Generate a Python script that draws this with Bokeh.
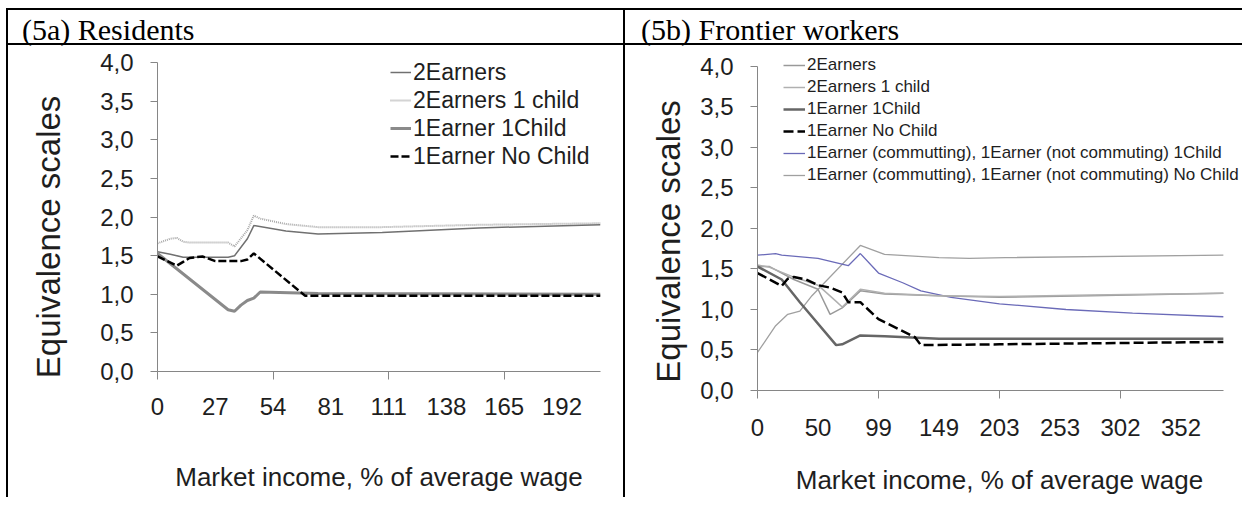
from bokeh.plotting import figure
from bokeh.models import (Range1d, FixedTicker, CustomJSTickFormatter, Legend,
                          LegendItem, Div)
from bokeh.layouts import row, column
from bokeh.embed import file_html
from bokeh.resources import INLINE

# ---------------- data: panel (5a) Residents ----------------
# x = category position on the (categorical) income axis, labels every 9 categories
a_tick_idx = [0, 9, 18, 27, 36, 45, 54, 63]
a_tick_labels = ["0", "27", "54", "81", "111", "138", "165", "192"]
a_x_max = 69

a_2e_x = [0, 2, 4, 11, 12, 14, 15, 20, 25, 35, 50, 69]
a_2e_y = [1.55, 1.52, 1.48, 1.48, 1.50, 1.72, 1.89, 1.82, 1.78, 1.80, 1.86, 1.90]
a_2e1c_x = [0, 2, 3, 4, 5, 11, 12, 14, 15, 16, 20, 25, 35, 50, 69]
a_2e1c_y = [1.66, 1.72, 1.73, 1.68, 1.67, 1.67, 1.62, 1.83, 2.02, 1.98, 1.91, 1.87, 1.87, 1.90, 1.92]
a_1e1c_x = [0, 11, 12, 13, 14, 15, 16, 25, 69]
a_1e1c_y = [1.53, 0.80, 0.78, 0.86, 0.92, 0.95, 1.03, 1.01, 1.00]
a_1e0c_x = [0, 3, 4, 5, 7, 9, 13, 14, 15, 23, 69]
a_1e0c_y = [1.49, 1.37, 1.42, 1.47, 1.49, 1.43, 1.43, 1.45, 1.53, 0.98, 0.98]

# ---------------- data: panel (5b) Frontier workers ----------------
b_tick_idx = [0, 10, 20, 30, 40, 50, 60, 70]
b_tick_labels = ["0", "50", "99", "149", "203", "253", "302", "352"]
b_x_max = 77

b_2e_x = [0, 2, 6, 10, 12, 14, 17, 21, 30, 40, 55, 77]
b_2e_y = [1.53, 1.53, 1.37, 1.25, 0.94, 1.02, 1.23, 1.19, 1.17, 1.15, 1.17, 1.20]
b_2e1c_x = [0, 2, 6, 10, 13, 14, 17, 21, 30, 40, 55, 77]
b_2e1c_y = [1.55, 1.52, 1.40, 1.30, 1.10, 1.03, 1.25, 1.20, 1.17, 1.16, 1.18, 1.20]
b_1e1c_x = [0, 4, 7, 13, 14, 17, 21, 30, 77]
b_1e1c_y = [1.53, 1.37, 1.09, 0.56, 0.57, 0.68, 0.67, 0.64, 0.64]
b_1e0c_x = [0, 4, 5, 6, 8, 10, 12, 14, 15, 17, 20, 26, 27, 40, 77]
b_1e0c_y = [1.45, 1.29, 1.38, 1.40, 1.37, 1.30, 1.27, 1.21, 1.09, 1.09, 0.88, 0.66, 0.56, 0.57, 0.60]
b_c1c_x = [0, 3, 4, 10, 15, 17, 20, 24, 27, 32, 40, 51, 62, 77]
b_c1c_y = [1.67, 1.69, 1.67, 1.63, 1.54, 1.69, 1.45, 1.33, 1.23, 1.15, 1.07, 1.00, 0.955, 0.91]
b_c0c_x = [0, 3, 5, 7, 9, 17, 21, 30, 35, 41, 77]
b_c0c_y = [0.47, 0.80, 0.94, 0.98, 1.17, 1.79, 1.68, 1.64, 1.63, 1.64, 1.67]

y_ticks = [0, 0.5, 1.0, 1.5, 2.0, 2.5, 3.0, 3.5, 4.0]
y_axis_max = 4.0

AXIS_GRAY = "#868686"
TEXT = "#1e1e1e"
SANS = "Liberation Sans"
NBSP = "\u00a0"


def make_panel(width, height, x_max, x_view_end, y_view_end, tick_idx, tick_labels, minor_idx,
               mb_left, mb_right, mb_top, mb_bottom, x_lab_standoff, x_title_standoff,
               ytitle_pad, ytitle_standoff):
    # the visible frame is a little larger than the axes (room for the legend text),
    # the axis lines themselves are bounded to the data extent
    p = figure(width=width, height=height, x_range=Range1d(0, x_view_end),
               y_range=Range1d(0, y_view_end),
               output_backend="svg", toolbar_location=None,
               min_border_left=mb_left, min_border_right=mb_right,
               min_border_top=mb_top, min_border_bottom=mb_bottom)
    p.grid.visible = False
    p.outline_line_color = None
    p.background_fill_color = "white"
    p.border_fill_color = "white"

    xa = p.xaxis[0]
    xa.bounds = (0, x_max)
    xa.ticker = FixedTicker(ticks=tick_idx, minor_ticks=minor_idx)
    xa.major_label_overrides = {i: s for i, s in zip(tick_idx, tick_labels)}
    xa.major_tick_out = 0
    xa.major_tick_in = 0
    xa.minor_tick_out = 8
    xa.minor_tick_in = 0
    xa.minor_tick_line_color = AXIS_GRAY
    xa.axis_line_color = AXIS_GRAY
    xa.major_label_text_font = SANS
    xa.major_label_text_font_size = "24px"
    xa.major_label_text_color = TEXT
    xa.major_label_standoff = x_lab_standoff
    xa.axis_label = "Market income, % of average wage"
    xa.axis_label_text_font = SANS
    xa.axis_label_text_font_size = "26px"
    xa.axis_label_text_font_style = "normal"
    xa.axis_label_text_color = TEXT
    xa.axis_label_standoff = x_title_standoff

    ya = p.yaxis[0]
    ya.bounds = (0, y_axis_max)
    ya.ticker = FixedTicker(ticks=y_ticks)
    ya.formatter = CustomJSTickFormatter(code="return tick.toFixed(1).replace('.', ',');")
    ya.major_tick_out = 7
    ya.major_tick_in = 0
    ya.minor_tick_out = 0
    ya.major_tick_line_color = AXIS_GRAY
    ya.axis_line_color = AXIS_GRAY
    ya.major_label_text_font = SANS
    ya.major_label_text_font_size = "24px"
    ya.major_label_text_color = TEXT
    ya.major_label_standoff = 17
    # trailing no-break spaces move the centred rotated title down, as in the original
    ya.axis_label = "Equivalence scales" + NBSP * ytitle_pad
    ya.axis_label_text_font = SANS
    ya.axis_label_text_font_size = "33px"
    ya.axis_label_text_font_style = "normal"
    ya.axis_label_text_color = TEXT
    ya.axis_label_standoff = ytitle_standoff
    return p


# ---------------- panel a ----------------
pa = make_panel(615, 452, a_x_max, a_x_max, 4.08, a_tick_idx, a_tick_labels, a_tick_idx[::2],
                149, 23, 11, 126, 18, 44, 5, 30)
ra2 = pa.line(a_2e1c_x, a_2e1c_y, line_color="#a8a8a8", line_width=2, line_dash="1 1")
ra1 = pa.line(a_2e_x, a_2e_y, line_color="#707070", line_width=1.5)
ra3 = pa.line(a_1e1c_x, a_1e1c_y, line_color="#8a8a8a", line_width=3)
ra4 = pa.line(a_1e0c_x, a_1e0c_y, line_color="black", line_width=2.5, line_dash="8 3")
leg_a = Legend(items=[LegendItem(label="2Earners", renderers=[ra1]),
                      LegendItem(label="2Earners 1 child", renderers=[ra2]),
                      LegendItem(label="1Earner 1Child", renderers=[ra3]),
                      LegendItem(label="1Earner No Child", renderers=[ra4])],
               location=(233, 201), background_fill_alpha=0, border_line_color=None,
               label_text_font=SANS, label_text_font_size="23px", label_text_color=TEXT,
               glyph_width=21, glyph_height=20, label_height=28, label_standoff=2,
               spacing=0, padding=0, margin=0)
pa.add_layout(leg_a)

# ---------------- panel b ----------------
pb = make_panel(617, 452, b_x_max, 80, 4.246, b_tick_idx, b_tick_labels, b_tick_idx[::2],
                132, 1, 1, 105, 20, 26, 5, 10)
rb6 = pb.line(b_c0c_x, b_c0c_y, line_color="#a0a0a0", line_width=1.3)
rb5 = pb.line(b_c1c_x, b_c1c_y, line_color="#6a6ab8", line_width=1.3)
rb1 = pb.line(b_2e_x, b_2e_y, line_color="#999999", line_width=1.5)
rb2 = pb.line(b_2e1c_x, b_2e1c_y, line_color="#b0b0b0", line_width=1.5)
rb3 = pb.line(b_1e1c_x, b_1e1c_y, line_color="#666666", line_width=2.5)
rb4 = pb.line(b_1e0c_x, b_1e0c_y, line_color="black", line_width=2.5, line_dash="10 4")
leg_b = Legend(items=[LegendItem(label="2Earners", renderers=[rb1]),
                      LegendItem(label="2Earners 1 child", renderers=[rb2]),
                      LegendItem(label="1Earner 1Child", renderers=[rb3]),
                      LegendItem(label="1Earner No Child", renderers=[rb4]),
                      LegendItem(label="1Earner (commutting), 1Earner (not commuting) 1Child", renderers=[rb5]),
                      LegendItem(label="1Earner (commutting), 1Earner (not commuting) No Child", renderers=[rb6])],
               location=(26, 204), background_fill_alpha=0, border_line_color=None,
               label_text_font=SANS, label_text_font_size="17px", label_text_color=TEXT,
               glyph_width=22, glyph_height=16, label_height=22, label_standoff=2,
               spacing=0, padding=0, margin=0)
pb.add_layout(leg_b)


# ---------------- table frame ----------------
def line_div(w, h):
    return Div(text="", width=w, height=h, margin=0, styles={"background-color": "black"})


def title_div(text, w, pad):
    html = ('<div style="font-family: \'Liberation Serif\'; font-size: 30px; line-height: 33px; '
            'padding: 3px 0 0 %dpx; white-space: nowrap; color: black;">%s</div>' % (pad, text))
    return Div(text=html, width=w, height=33, margin=0)


layout = column(
    line_div(1236, 2),
    row(line_div(2, 33), title_div("(5a) Residents", 615, 14),
        line_div(2, 33), title_div("(5b) Frontier workers", 617, 16), spacing=0, margin=0),
    line_div(1236, 2),
    row(line_div(2, 452), column(pa, margin=0), line_div(2, 452), column(pb, margin=0),
        spacing=0, margin=0),
    spacing=0,
    margin=(8, 0, 0, 6),
)

open("out.html", "w").write(file_html(layout, INLINE))
